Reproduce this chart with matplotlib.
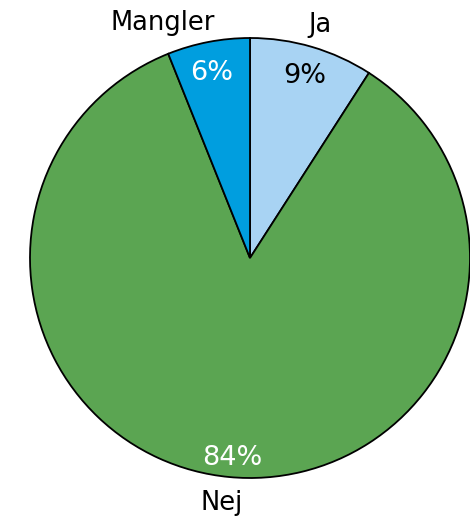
import matplotlib
matplotlib.use("Agg")
import matplotlib.pyplot as plt

# Survey answers (share in percent)
categories = ["Ja", "Nej", "Mangler"]
values = [9, 84, 6]
colors = ["#a8d3f3", "#5ba552", "#009edf"]
pct_colors = ["black", "white", "white"]

fig = plt.figure(figsize=(4.70, 5.16), dpi=100)
ax = fig.add_axes([30 / 470, 38 / 516, 440 / 470, 440 / 516])

wedges, _ = ax.pie(
    values,
    colors=colors,
    startangle=90,
    counterclock=False,
    wedgeprops=dict(edgecolor="black", linewidth=1.3),
)
ax.set_xlim(-1.0, 1.0)
ax.set_ylim(-1.0, 1.0)
ax.set_aspect("equal")
ax.axis("off")

# category names outside the pie, percentages inside
name_pos = {"Ja": (0.318, 1.060), "Nej": (-0.127, -1.113), "Mangler": (-0.395, 1.069)}
pct_pos = {"Ja": (0.25, 0.828), "Nej": (-0.082, -0.908), "Mangler": (-0.173, 0.843)}

for cat, val, pc in zip(categories, values, pct_colors):
    x, y = name_pos[cat]
    ax.text(x, y, cat, ha="center", va="center", fontsize=18.5,
            family="DejaVu Sans", color="black", clip_on=False)
    x, y = pct_pos[cat]
    ax.text(x, y, f"{val}%", ha="center", va="center", fontsize=19.5,
            family="DejaVu Sans", color=pc, clip_on=False)

fig.savefig("out.png", dpi=100)
